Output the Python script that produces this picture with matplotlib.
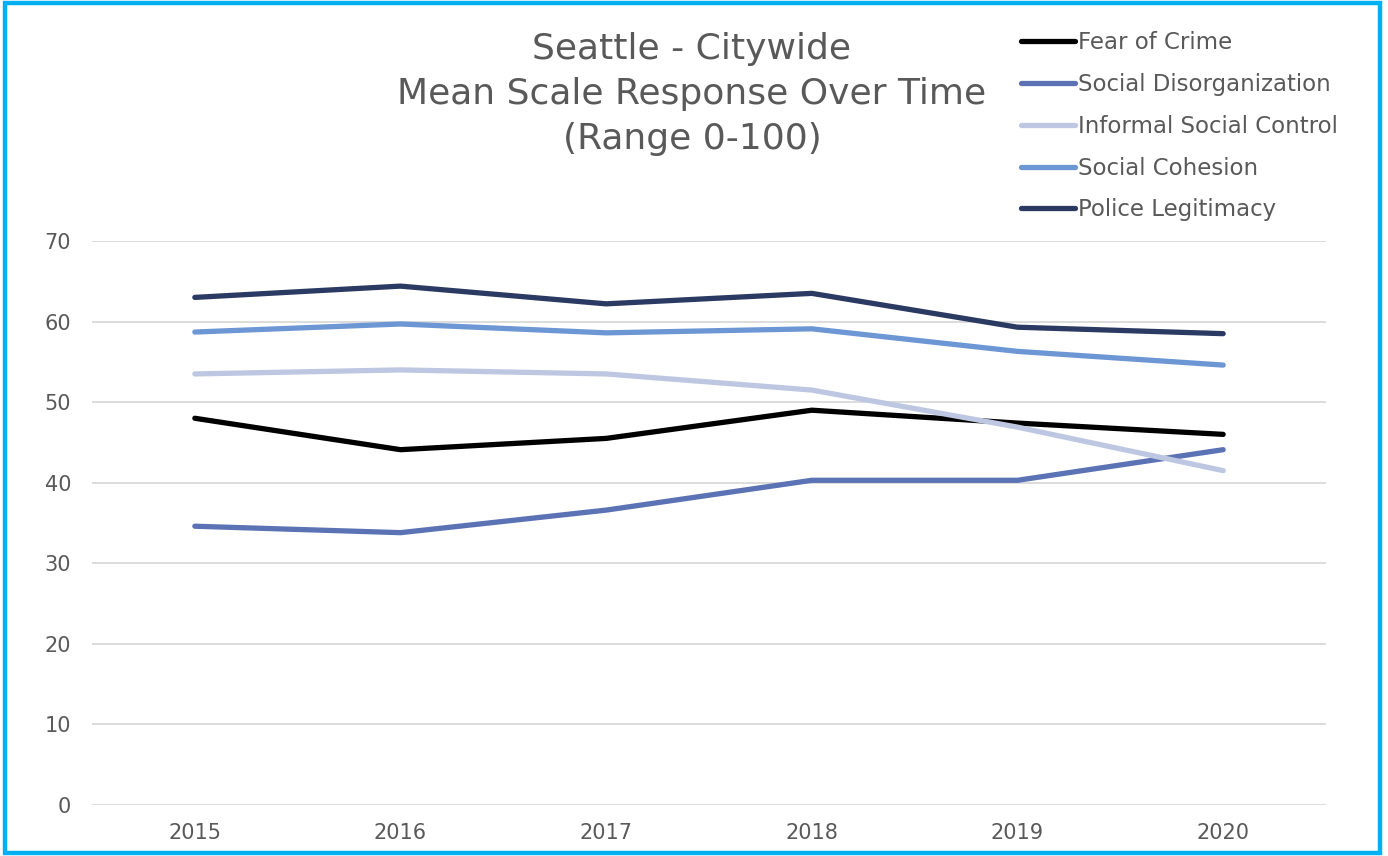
import matplotlib
matplotlib.use("Agg")
import matplotlib.pyplot as plt
from matplotlib.patches import Rectangle

years = ["2015", "2016", "2017", "2018", "2019", "2020"]
fear_of_crime = [48.0, 44.1, 45.5, 49.0, 47.4, 46.0]
social_disorganization = [34.6, 33.8, 36.6, 40.3, 40.3, 44.1]
informal_social_control = [53.5, 54.0, 53.5, 51.5, 46.9, 41.5]
social_cohesion = [58.7, 59.7, 58.6, 59.1, 56.3, 54.6]
police_legitimacy = [63.0, 64.4, 62.2, 63.5, 59.3, 58.5]

series = [
    ("Fear of Crime", fear_of_crime, "#000000"),
    ("Social Disorganization", social_disorganization, "#5B73B4"),
    ("Informal Social Control", informal_social_control, "#BDC7E1"),
    ("Social Cohesion", social_cohesion, "#6D96D4"),
    ("Police Legitimacy", police_legitimacy, "#2B3A62"),
]

plt.rcParams['font.family'] = ['DejaVu Sans']
text_color = "#595959"

W, H = 1388, 856
fig = plt.figure(figsize=(W / 100, H / 100), dpi=100)
ax = fig.add_axes([92 / W, (H - 805) / H, (1326 - 92) / W, (805 - 241) / H])

x = list(range(len(years)))
for label, vals, color in series:
    ax.plot(x, vals, color=color, linewidth=3.8, solid_capstyle='round',
            solid_joinstyle='round', label=label)

ax.set_xlim(-0.5, len(years) - 0.5)
ax.set_ylim(0, 70)
ax.set_yticks(range(0, 71, 10))
ax.set_xticks(x)
ax.set_xticklabels(years)
ax.grid(axis='y', color='#D9D9D9', linewidth=1.3)
ax.set_axisbelow(True)
for s in ax.spines.values():
    s.set_visible(False)
ax.tick_params(axis='both', length=0, labelsize=15, colors=text_color)
ax.tick_params(axis='y', pad=15)
ax.tick_params(axis='x', pad=13)

fig.text(692 / W, 1 - 94 / H, "Seattle - Citywide\nMean Scale Response Over Time\n(Range 0-100)",
         ha='center', va='center', fontsize=26, color=text_color, linespacing=1.42)

leg = fig.legend(loc='upper left', bbox_to_anchor=(1012 / W, 1 - 22 / H), frameon=False,
                 fontsize=16.5, handlelength=2.35, handletextpad=0.12, labelspacing=0.82,
                 borderaxespad=0)
for t in leg.get_texts():
    t.set_color(text_color)

fig.patches.append(Rectangle((5 / W, 3 / H), (1380 - 5) / W, (853 - 3) / H,
                             transform=fig.transFigure, fill=False,
                             edgecolor='#00B0F0', linewidth=3.2))

fig.savefig("out.png", dpi=100)
